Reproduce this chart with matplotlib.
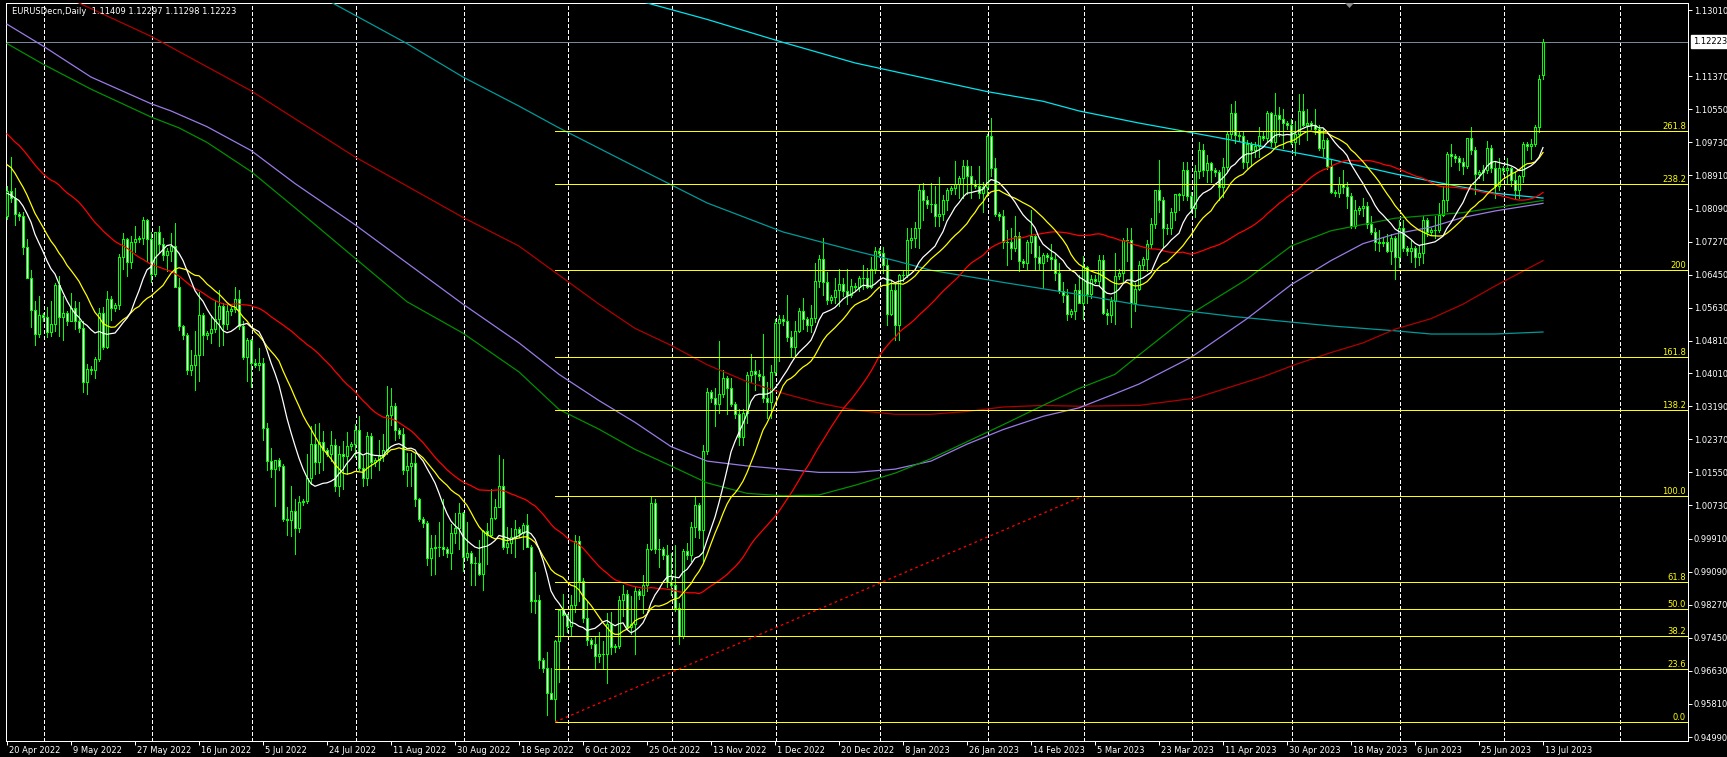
import numpy as np
import pandas as pd
import matplotlib
matplotlib.use("Agg")
import matplotlib.pyplot as plt
from matplotlib.patches import Polygon
from matplotlib.transforms import ScaledTranslation, blended_transform_factory

# ---------------- data ----------------
symbol_title = "EURUSDecn,Daily"
first_date, last_date = "2022-04-20", "2023-07-13"
missing_dates = ["2022-06-05"]          # one Sunday bar absent from the feed

opens = [
    1.0790, 1.0852, 1.0836,
    1.0795, 1.0790, 1.0713, 1.0637, 1.0557, 1.0497,
    1.0545, 1.0540, 1.0502, 1.0523, 1.0620, 1.0540,
    1.0551, 1.0530, 1.0563, 1.0530, 1.0514, 1.0380,
    1.0412, 1.0408, 1.0435, 1.0551, 1.0465, 1.0585,
    1.0563, 1.0570, 1.0690, 1.0734, 1.0677, 1.0725,
    1.0733, 1.0735, 1.0780, 1.0734, 1.0648, 1.0750,
    1.0720, 1.0695, 1.0705, 1.0715, 1.0615,
    1.0518, 1.0495, 1.0410, 1.0420, 1.0445, 1.0545,
    1.0495, 1.0500, 1.0510, 1.0535, 1.0567, 1.0522,
    1.0554, 1.0560, 1.0584, 1.0518, 1.0442, 1.0484,
    1.0426, 1.0420, 1.0425, 1.0265, 1.0182, 1.0163,
    1.0185, 1.0170, 1.0040, 1.0036, 1.0060, 1.0018,
    1.0082, 1.0085, 1.0141, 1.0225, 1.0180, 1.0230,
    1.0211, 1.0200, 1.0222, 1.0120, 1.0200, 1.0195,
    1.0220, 1.0225, 1.0261, 1.0165, 1.0142, 1.0245,
    1.0181, 1.0185, 1.0196, 1.0211, 1.0298, 1.0320,
    1.0259, 1.0250, 1.0160, 1.0170, 1.0178, 1.0089,
    1.0039, 1.0030, 0.9943, 0.9968, 0.9970, 0.9970,
    0.9965, 0.9955, 1.0005, 1.0018, 1.0055, 0.9944,
    0.9955, 0.9930, 0.9930, 0.9903, 1.0010, 1.0000,
    1.0043, 1.0070, 1.0120, 0.9970, 0.9980, 0.9995,
    1.0015, 1.0005, 1.0025, 0.9970, 0.9835, 0.9838,
    0.9690, 0.9670, 0.9607, 0.9593, 0.9737, 0.9815,
    0.9801, 0.9775, 0.9825, 0.9986, 0.9885, 0.9795,
    0.9740, 0.9730, 0.9701, 0.9705, 0.9705, 0.9779,
    0.9722, 0.9725, 0.9839, 0.9854, 0.9772, 0.9779,
    0.9860, 0.9850, 0.9877, 0.9965, 1.0078, 0.9964,
    0.9965, 0.9950, 0.9883, 0.9877, 0.9820, 0.9750,
    0.9960, 0.9950, 1.0020, 1.0074, 1.0013, 1.0209,
    1.0355, 1.0340, 1.0324, 1.0350, 1.0390, 1.0363,
    1.0324, 1.0300, 1.0243, 1.0303, 1.0397, 1.0407,
    1.0398, 1.0395, 1.0340, 1.0330, 1.0405, 1.0525,
    1.0535, 1.0530, 1.0490, 1.0467, 1.0506, 1.0555,
    1.0535, 1.0520, 1.0538, 1.0630, 1.0683, 1.0627,
    1.0583, 1.0590, 1.0606, 1.0622, 1.0605, 1.0595,
    1.0616, 1.0615, 1.0637, 1.0638, 1.0615, 1.0660,
    1.0705, 1.0700, 1.0670, 1.0548, 1.0607, 1.0520,
    1.0644, 1.0645, 1.0731, 1.0735, 1.0761, 1.0854,
    1.0830, 1.0820, 1.0820, 1.0790, 1.0795, 1.0830,
    1.0855, 1.0860, 1.0871, 1.0885, 1.0915, 1.0890,
    1.0870, 1.0865, 1.0848, 1.0862, 1.0990, 1.0910,
    1.0795, 1.0790, 1.0727, 1.0727, 1.0712, 1.0740,
    1.0678, 1.0675, 1.0725, 1.0740, 1.0690, 1.0675,
    1.0695, 1.0690, 1.0685, 1.0650, 1.0605, 1.0595,
    1.0547, 1.0555, 1.0608, 1.0576, 1.0665, 1.0596,
    1.0635, 1.0630, 1.0682, 1.0550, 1.0545, 1.0581,
    1.0641, 1.0650, 1.0730, 1.0732, 1.0575, 1.0610,
    1.0670, 1.0685, 1.0720, 1.0770, 1.0855, 1.0830,
    1.0760, 1.0760, 1.0800, 1.0845, 1.0843, 1.0905,
    1.0840, 1.0810, 1.0903, 1.0955, 1.0905, 1.0922,
    1.0905, 1.0900, 1.0862, 1.0913, 1.0995, 1.1047,
    1.0991, 1.0990, 1.0925, 1.0970, 1.0955, 1.0965,
    1.0990, 1.0985, 1.1045, 1.0975, 1.1040, 1.1030,
    1.1020, 1.1015, 1.0975, 1.0995, 1.1050, 1.1015,
    1.1020, 1.1015, 1.1005, 1.0960, 1.0980, 1.0915,
    1.0850, 1.0848, 1.0870, 1.0862, 1.0840, 1.0765,
    1.0805, 1.0810, 1.0815, 1.0770, 1.0750, 1.0725,
    1.0723, 1.0725, 1.0705, 1.0735, 1.0690, 1.0760,
    1.0710, 1.0705, 1.0710, 1.0690, 1.0700, 1.0780,
    1.0750, 1.0755, 1.0755, 1.0793, 1.0830, 1.0945,
    1.0940, 1.0935, 1.0925, 1.0915, 1.0985, 1.0955,
    1.0895, 1.0900, 1.0905, 1.0960, 1.0910, 1.0866,
    1.0910, 1.0905, 1.0910, 1.0880, 1.0855, 1.0890,
    1.0970, 1.0965, 1.0970, 1.1010, 1.11409,
]

highs = [
    1.0866, 1.0936, 1.0860,
    1.0800, 1.0800, 1.0734, 1.0657, 1.0581, 1.0592,
    1.0550, 1.0566, 1.0580, 1.0624, 1.0642, 1.0592,
    1.0555, 1.0600, 1.0580, 1.0577, 1.0530, 1.0423,
    1.0418, 1.0440, 1.0563, 1.0564, 1.0605, 1.0593,
    1.0575, 1.0697, 1.0749, 1.0737, 1.0740, 1.0765,
    1.0740, 1.0787, 1.0784, 1.0750, 1.0750, 1.0765,
    1.0737, 1.0710, 1.0748, 1.0774, 1.0638,
    1.0520, 1.0500, 1.0459, 1.0506, 1.0601, 1.0550,
    1.0505, 1.0545, 1.0583, 1.0606, 1.0575, 1.0570,
    1.0565, 1.0615, 1.0606, 1.0531, 1.0487, 1.0486,
    1.0435, 1.0463, 1.0438, 1.0277, 1.0215, 1.0186,
    1.0190, 1.0175, 1.0069, 1.0121, 1.0090, 1.0097,
    1.0090, 1.0200, 1.0269, 1.0274, 1.0278, 1.0258,
    1.0215, 1.0258, 1.0237, 1.0220, 1.0234, 1.0255,
    1.0230, 1.0274, 1.0294, 1.0195, 1.0254, 1.0253,
    1.0190, 1.0235, 1.0249, 1.0368, 1.0364, 1.0326,
    1.0265, 1.0265, 1.0202, 1.0202, 1.0202, 1.0092,
    1.0045, 1.0034, 0.9999, 0.9999, 1.0033, 1.0090,
    0.9970, 1.0028, 1.0055, 1.0080, 1.0057, 1.0033,
    0.9960, 0.9945, 0.9988, 1.0012, 1.0030, 1.0113,
    1.0090, 1.0198, 1.0187, 1.0020, 1.0017, 1.0037,
    1.0020, 1.0030, 1.0051, 0.9976, 0.9907, 0.9852,
    0.9695, 0.9710, 0.9671, 0.9739, 0.9815, 0.9854,
    0.9805, 0.9852, 0.9999, 0.9998, 0.9892, 0.9835,
    0.9745, 0.9748, 0.9760, 0.9736, 0.9807, 0.9809,
    0.9730, 0.9848, 0.9875, 0.9864, 0.9849, 0.9872,
    0.9865, 0.9900, 0.9977, 1.0093, 1.0088, 0.9990,
    0.9970, 0.9976, 0.9954, 0.9976, 0.9830, 0.9965,
    0.9980, 1.0033, 1.0095, 1.0079, 1.0222, 1.0364,
    1.0360, 1.0365, 1.0481, 1.0408, 1.0393, 1.0390,
    1.0330, 1.0311, 1.0313, 1.0405, 1.0448, 1.0433,
    1.0410, 1.0497, 1.0380, 1.0420, 1.0534, 1.0545,
    1.0545, 1.0595, 1.0505, 1.0531, 1.0562, 1.0588,
    1.0540, 1.0569, 1.0673, 1.0695, 1.0736, 1.0652,
    1.0595, 1.0638, 1.0658, 1.0638, 1.0658, 1.0634,
    1.0625, 1.0642, 1.0670, 1.0661, 1.0690, 1.0714,
    1.0710, 1.0713, 1.0683, 1.0633, 1.0622, 1.0648,
    1.0655, 1.0760, 1.0760, 1.0776, 1.0868, 1.0873,
    1.0840, 1.0873, 1.0866, 1.0887, 1.0843, 1.0859,
    1.0865, 1.0927, 1.0889, 1.0929, 1.0930, 1.0914,
    1.0880, 1.0914, 1.0874, 1.0993, 1.1033, 1.0935,
    1.0800, 1.0805, 1.0757, 1.0760, 1.0790, 1.0751,
    1.0685, 1.0730, 1.0805, 1.0745, 1.0715, 1.0700,
    1.0700, 1.0720, 1.0700, 1.0673, 1.0628, 1.0610,
    1.0560, 1.0622, 1.0645, 1.0692, 1.0667, 1.0644,
    1.0645, 1.0694, 1.0695, 1.0560, 1.0590, 1.0700,
    1.0660, 1.0737, 1.0760, 1.0760, 1.0625, 1.0680,
    1.0690, 1.0730, 1.0786, 1.0856, 1.0930, 1.0838,
    1.0770, 1.0810, 1.0846, 1.0848, 1.0925, 1.0925,
    1.0850, 1.0917, 1.0973, 1.0970, 1.0941, 1.0925,
    1.0910, 1.0905, 1.0935, 1.1000, 1.1068, 1.1076,
    1.1000, 1.0999, 1.0980, 1.0975, 1.0973, 1.1012,
    1.1000, 1.1050, 1.1048, 1.1095, 1.1060, 1.1055,
    1.1025, 1.1030, 1.1025, 1.1092, 1.1092, 1.1055,
    1.1025, 1.1055, 1.1015, 1.1005, 1.0985, 1.0930,
    1.0855, 1.0888, 1.0904, 1.0875, 1.0848, 1.0830,
    1.0815, 1.0835, 1.0825, 1.0790, 1.0760, 1.0755,
    1.0735, 1.0745, 1.0745, 1.0740, 1.0780, 1.0780,
    1.0715, 1.0730, 1.0715, 1.0715, 1.0790, 1.0785,
    1.0760, 1.0790, 1.0824, 1.0864, 1.0949, 1.0970,
    1.0945, 1.0940, 1.0935, 1.0985, 1.1012, 1.0962,
    1.0905, 1.0917, 1.0976, 1.0967, 1.0925, 1.0935,
    1.0915, 1.0935, 1.0912, 1.0900, 1.0892, 1.0975,
    1.0975, 1.0982, 1.1017, 1.1140, 1.12297,
]

lows = [
    1.0782, 1.0825, 1.0768,
    1.0780, 1.0697, 1.0636, 1.0515, 1.0472, 1.0490,
    1.0530, 1.0490, 1.0492, 1.0505, 1.0494, 1.0483,
    1.0520, 1.0530, 1.0510, 1.0502, 1.0354, 1.0350,
    1.0400, 1.0389, 1.0430, 1.0460, 1.0463, 1.0532,
    1.0555, 1.0560, 1.0660, 1.0643, 1.0662, 1.0701,
    1.0725, 1.0720, 1.0680, 1.0627, 1.0643, 1.0702,
    1.0681, 1.0653, 1.0680, 1.0614, 1.0507,
    1.0485, 1.0398, 1.0397, 1.0359, 1.0381, 1.0445,
    1.0485, 1.0475, 1.0502, 1.0469, 1.0470, 1.0510,
    1.0545, 1.0552, 1.0511, 1.0437, 1.0382, 1.0366,
    1.0415, 1.0410, 1.0236, 1.0162, 1.0144, 1.0072,
    1.0160, 1.0034, 0.9999, 0.9998, 0.9952, 1.0006,
    1.0075, 1.0080, 1.0125, 1.0152, 1.0153, 1.0162,
    1.0195, 1.0183, 1.0109, 1.0096, 1.0113, 1.0150,
    1.0210, 1.0194, 1.0162, 1.0122, 1.0123, 1.0141,
    1.0170, 1.0160, 1.0184, 1.0200, 1.0273, 1.0236,
    1.0240, 1.0150, 1.0122, 1.0122, 1.0072, 1.0034,
    1.0020, 0.9926, 0.9900, 0.9903, 0.9947, 0.9950,
    0.9945, 0.9915, 0.9980, 0.9964, 0.9911, 0.9939,
    0.9875, 0.9877, 0.9900, 0.9864, 0.9929, 0.9994,
    1.0040, 1.0070, 0.9966, 0.9955, 0.9956, 0.9945,
    0.9995, 0.9966, 0.9970, 0.9810, 0.9807, 0.9670,
    0.9660, 0.9553, 0.9593, 0.9536, 0.9635, 0.9750,
    0.9760, 0.9751, 0.9809, 0.9835, 0.9785, 0.9727,
    0.9720, 0.9671, 0.9685, 0.9669, 0.9632, 0.9706,
    0.9710, 0.9720, 0.9800, 0.9767, 0.9755, 0.9705,
    0.9840, 0.9807, 0.9860, 0.9963, 0.9955, 0.9921,
    0.9940, 0.9870, 0.9851, 0.9811, 0.9730, 0.9745,
    0.9940, 0.9935, 0.9995, 0.9993, 0.9935, 1.0200,
    1.0330, 1.0271, 1.0302, 1.0343, 1.0300, 1.0320,
    1.0290, 1.0223, 1.0224, 1.0277, 1.0378, 1.0358,
    1.0385, 1.0330, 1.0290, 1.0290, 1.0396, 1.0430,
    1.0520, 1.0480, 1.0444, 1.0444, 1.0502, 1.0510,
    1.0505, 1.0503, 1.0529, 1.0615, 1.0595, 1.0573,
    1.0575, 1.0575, 1.0567, 1.0593, 1.0573, 1.0589,
    1.0605, 1.0605, 1.0610, 1.0612, 1.0612, 1.0650,
    1.0690, 1.0650, 1.0520, 1.0545, 1.0483, 1.0483,
    1.0630, 1.0640, 1.0712, 1.0713, 1.0710, 1.0780,
    1.0810, 1.0800, 1.0766, 1.0766, 1.0780, 1.0805,
    1.0845, 1.0845, 1.0834, 1.0835, 1.0845, 1.0835,
    1.0860, 1.0835, 1.0800, 1.0840, 1.0889, 1.0790,
    1.0780, 1.0710, 1.0670, 1.0684, 1.0703, 1.0655,
    1.0665, 1.0660, 1.0700, 1.0660, 1.0660, 1.0613,
    1.0680, 1.0660, 1.0632, 1.0600, 1.0577, 1.0533,
    1.0540, 1.0535, 1.0575, 1.0534, 1.0576, 1.0588,
    1.0625, 1.0618, 1.0548, 1.0524, 1.0528, 1.0524,
    1.0635, 1.0630, 1.0680, 1.0516, 1.0554, 1.0606,
    1.0660, 1.0653, 1.0710, 1.0760, 1.0800, 1.0713,
    1.0745, 1.0745, 1.0780, 1.0805, 1.0830, 1.0830,
    1.0800, 1.0788, 1.0885, 1.0889, 1.0875, 1.0875,
    1.0890, 1.0830, 1.0838, 1.0900, 1.0985, 1.0971,
    1.0980, 1.0909, 1.0910, 1.0914, 1.0938, 1.0936,
    1.0980, 1.0975, 1.0963, 1.0965, 1.0990, 1.0960,
    1.1005, 1.0968, 1.0942, 1.0968, 1.1013, 1.0980,
    1.1005, 1.0995, 1.0955, 1.0940, 1.0906, 1.0848,
    1.0840, 1.0837, 1.0848, 1.0810, 1.0760, 1.0760,
    1.0795, 1.0790, 1.0760, 1.0746, 1.0706, 1.0703,
    1.0715, 1.0702, 1.0671, 1.0635, 1.0665, 1.0705,
    1.0695, 1.0676, 1.0665, 1.0670, 1.0675, 1.0740,
    1.0745, 1.0735, 1.0750, 1.0790, 1.0802, 1.0915,
    1.0925, 1.0905, 1.0895, 1.0910, 1.0945, 1.0844,
    1.0885, 1.0880, 1.0897, 1.0899, 1.0834, 1.0855,
    1.0895, 1.0872, 1.0865, 1.0833, 1.0835, 1.0875,
    1.0955, 1.0932, 1.0964, 1.0998, 1.11298,
]

closes = [
    1.0852, 1.0836, 1.0795,
    1.0790, 1.0713, 1.0637, 1.0557, 1.0497, 1.0545,
    1.0540, 1.0502, 1.0523, 1.0620, 1.0540, 1.0551,
    1.0530, 1.0563, 1.0530, 1.0514, 1.0380, 1.0412,
    1.0408, 1.0435, 1.0551, 1.0465, 1.0585, 1.0563,
    1.0570, 1.0690, 1.0734, 1.0677, 1.0725, 1.0733,
    1.0735, 1.0780, 1.0734, 1.0648, 1.0750, 1.0720,
    1.0695, 1.0705, 1.0715, 1.0615, 1.0518,
    1.0495, 1.0410, 1.0420, 1.0445, 1.0545, 1.0495,
    1.0500, 1.0510, 1.0535, 1.0567, 1.0522, 1.0554,
    1.0560, 1.0584, 1.0518, 1.0442, 1.0484, 1.0426,
    1.0420, 1.0425, 1.0265, 1.0182, 1.0163, 1.0185,
    1.0170, 1.0040, 1.0036, 1.0060, 1.0018, 1.0082,
    1.0085, 1.0141, 1.0225, 1.0180, 1.0230, 1.0211,
    1.0200, 1.0222, 1.0120, 1.0200, 1.0195, 1.0220,
    1.0225, 1.0261, 1.0165, 1.0142, 1.0245, 1.0181,
    1.0185, 1.0196, 1.0211, 1.0298, 1.0320, 1.0259,
    1.0250, 1.0160, 1.0170, 1.0178, 1.0089, 1.0039,
    1.0030, 0.9943, 0.9968, 0.9970, 0.9970, 0.9965,
    0.9955, 1.0005, 1.0018, 1.0055, 0.9944, 0.9955,
    0.9930, 0.9930, 0.9903, 1.0010, 1.0000, 1.0043,
    1.0070, 1.0120, 0.9970, 0.9980, 0.9995, 1.0015,
    1.0005, 1.0025, 0.9970, 0.9835, 0.9838, 0.9690,
    0.9670, 0.9607, 0.9593, 0.9737, 0.9815, 0.9801,
    0.9775, 0.9825, 0.9986, 0.9885, 0.9795, 0.9740,
    0.9730, 0.9701, 0.9705, 0.9705, 0.9779, 0.9722,
    0.9725, 0.9839, 0.9854, 0.9772, 0.9779, 0.9860,
    0.9850, 0.9877, 0.9965, 1.0078, 0.9964, 0.9965,
    0.9950, 0.9883, 0.9877, 0.9820, 0.9750, 0.9960,
    0.9950, 1.0020, 1.0074, 1.0013, 1.0209, 1.0355,
    1.0340, 1.0324, 1.0350, 1.0390, 1.0363, 1.0324,
    1.0300, 1.0243, 1.0303, 1.0397, 1.0407, 1.0398,
    1.0395, 1.0340, 1.0330, 1.0405, 1.0525, 1.0535,
    1.0530, 1.0490, 1.0467, 1.0506, 1.0555, 1.0535,
    1.0520, 1.0538, 1.0630, 1.0683, 1.0627, 1.0583,
    1.0590, 1.0606, 1.0622, 1.0605, 1.0595, 1.0616,
    1.0615, 1.0637, 1.0638, 1.0615, 1.0660, 1.0705,
    1.0700, 1.0670, 1.0548, 1.0607, 1.0520, 1.0644,
    1.0645, 1.0731, 1.0735, 1.0761, 1.0854, 1.0830,
    1.0820, 1.0820, 1.0790, 1.0795, 1.0830, 1.0855,
    1.0860, 1.0871, 1.0885, 1.0915, 1.0890, 1.0870,
    1.0865, 1.0848, 1.0862, 1.0990, 1.0910, 1.0795,
    1.0790, 1.0727, 1.0727, 1.0712, 1.0740, 1.0678,
    1.0675, 1.0725, 1.0740, 1.0690, 1.0675, 1.0695,
    1.0690, 1.0685, 1.0650, 1.0605, 1.0595, 1.0547,
    1.0555, 1.0608, 1.0576, 1.0665, 1.0596, 1.0635,
    1.0630, 1.0682, 1.0550, 1.0545, 1.0581, 1.0641,
    1.0650, 1.0730, 1.0732, 1.0575, 1.0610, 1.0670,
    1.0685, 1.0720, 1.0770, 1.0855, 1.0830, 1.0760,
    1.0760, 1.0800, 1.0845, 1.0843, 1.0905, 1.0840,
    1.0810, 1.0903, 1.0955, 1.0905, 1.0922, 1.0905,
    1.0900, 1.0862, 1.0913, 1.0995, 1.1047, 1.0991,
    1.0990, 1.0925, 1.0970, 1.0955, 1.0965, 1.0990,
    1.0985, 1.1045, 1.0975, 1.1040, 1.1030, 1.1020,
    1.1015, 1.0975, 1.0995, 1.1050, 1.1015, 1.1020,
    1.1015, 1.1005, 1.0960, 1.0980, 1.0915, 1.0850,
    1.0848, 1.0870, 1.0862, 1.0840, 1.0765, 1.0805,
    1.0810, 1.0815, 1.0770, 1.0750, 1.0725, 1.0723,
    1.0725, 1.0705, 1.0735, 1.0690, 1.0760, 1.0710,
    1.0705, 1.0710, 1.0690, 1.0700, 1.0780, 1.0750,
    1.0755, 1.0755, 1.0793, 1.0830, 1.0945, 1.0940,
    1.0935, 1.0925, 1.0915, 1.0985, 1.0955, 1.0895,
    1.0900, 1.0905, 1.0960, 1.0910, 1.0866, 1.0910,
    1.0905, 1.0910, 1.0880, 1.0855, 1.0890, 1.0970,
    1.0965, 1.0970, 1.1010, 1.1130, 1.12223,
]

# closes of the 50 bars before the first visible bar (warm-up for the moving averages)
pre_closes = [
    1.1308, 1.1327, 1.1310, 1.1193, 1.1270,
    1.1230, 1.1218, 1.1123, 1.1120, 1.1064, 1.0930,
    1.0880, 1.0857, 1.0902, 1.1074, 1.0985, 1.0912,
    1.0920, 1.0943, 1.0956, 1.1036, 1.1092, 1.1051,
    1.1045, 1.1016, 1.1030, 1.1006, 1.0996, 1.0983,
    1.0965, 1.0985, 1.1088, 1.1158, 1.1067, 1.1047,
    1.1040, 1.0971, 1.0905, 1.0901, 1.0878, 1.0876,
    1.0890, 1.0886, 1.0829, 1.0890, 1.0826, 1.0810,
    1.0805, 1.0779, 1.0788,
]
fast_period, mid_period, slow_period = 13, 21, 50

# long moving averages (bar index, price)
green_bar = [0, 9, 21, 36, 43, 50, 61, 72, 87, 100, 114, 128, 138, 148, 157, 166, 175, 185, 194, 203,
             212, 222, 231, 240, 249, 259, 268, 277, 283, 296, 310, 321, 331, 347, 364, 384]
green_val = [1.1218, 1.1167, 1.1105, 1.1036, 1.1009, 1.0973, 1.0901, 1.0811, 1.0686, 1.0578,
             1.0500, 1.0404, 1.0311, 1.0262, 1.0212, 1.0171, 1.0129, 1.0103, 1.0097, 1.0099,
             1.0123, 1.0153, 1.0189, 1.0231, 1.0273, 1.0321, 1.0363, 1.0398, 1.0446, 1.0548,
             1.0634, 1.0716, 1.0754, 1.0785, 1.0799, 1.0829]
purple_bar = [0, 9, 21, 36, 41, 50, 61, 72, 87, 100, 114, 128, 138, 148, 157, 166, 175, 185, 194, 203,
              212, 222, 231, 240, 249, 259, 268, 277, 283, 296, 310, 321, 331, 339, 347, 356, 364, 372, 384]
purple_val = [1.1266, 1.1212, 1.1135, 1.1069, 1.1051, 1.1012, 1.0953, 1.0871, 1.0769, 1.0674,
              1.0572, 1.0476, 1.0398, 1.0333, 1.0279, 1.0219, 1.0183, 1.0171, 1.0163, 1.0155,
              1.0155, 1.0163, 1.0183, 1.0225, 1.0261, 1.0294, 1.0315, 1.0350, 1.0374, 1.0440,
              1.0536, 1.0620, 1.0680, 1.0722, 1.0746, 1.0763, 1.0787, 1.0803, 1.0822]
darkred_bar = [0, 19, 36, 61, 87, 114, 128, 138, 148, 157, 166, 175, 185, 194, 203, 212, 222, 231, 240, 249,
               259, 268, 283, 297, 314, 322, 331, 339, 347, 356, 364, 372, 384]
darkred_val = [1.1398, 1.1314, 1.1236, 1.1101, 1.0937, 1.0787, 1.0716, 1.0644, 1.0572, 1.0512,
               1.0470, 1.0422, 1.0380, 1.0351, 1.0327, 1.0309, 1.0299, 1.0299, 1.0306, 1.0317,
               1.0321, 1.0319, 1.0321, 1.0339, 1.0392, 1.0422, 1.0452, 1.0476, 1.0510, 1.0536,
               1.0572, 1.0617, 1.0680]
teal_bar = [72, 80, 100, 114, 128, 138, 157, 175, 194, 212, 222, 231, 249, 268, 283, 306, 331, 347, 356, 372, 384]
teal_val = [1.1366, 1.1326, 1.1218, 1.1135, 1.1063, 1.1009, 1.0913, 1.0823, 1.0751, 1.0704,
            1.0680, 1.0656, 1.0626, 1.0596, 1.0570, 1.0542, 1.0518, 1.0506, 1.0498, 1.0498, 1.0503]
cyan_bar = [140, 161, 175, 194, 212, 231, 245, 259, 268, 283, 293, 306, 318, 331, 339, 347, 356, 364, 372, 384]
cyan_val = [1.1370, 1.1316, 1.1278, 1.1221, 1.1170, 1.1129, 1.1099, 1.1075, 1.1051, 1.1021,
            1.1003, 1.0979, 1.0955, 1.0931, 1.0913, 1.0895, 1.0877, 1.0862, 1.0847, 1.0835]

# Fibonacci retracement
fib_start_bar, fib_end_bar = 137, 269
fib_low, fib_high = 0.9536, 1.0096
fib_ratios = [0.0, 23.6, 38.2, 50.0, 61.8, 100.0, 138.2, 161.8, 200.0, 238.2, 261.8]
fib_labels = ["0.0", "23.6", "38.2", "50.0", "61.8", "100.0", "138.2", "161.8", "200", "238.2", "261.8"]

# price scale
price_min, price_max = 0.94891, 1.13198
price_ticks = [1.13010, 1.11370, 1.10550, 1.09730, 1.08910, 1.08090, 1.07270, 1.06450,
               1.05630, 1.04810, 1.04010, 1.03190, 1.02370, 1.01550, 1.00730, 0.99910,
               0.99090, 0.98270, 0.97450, 0.96630, 0.95810, 0.94990]
label_every = 16

# ---------------- figure ----------------
n = len(closes)
assert len(opens) == n and len(highs) == n and len(lows) == n

dates = pd.date_range(first_date, last_date, freq="D")
dates = dates[(dates.dayofweek != 5) & ~dates.isin(pd.to_datetime(missing_dates))]
assert len(dates) == n

W, H, DPI = 1727, 757, 100
PX = 72.0 / DPI
FS = 6.0
plt.rcParams['font.family'] = ['DejaVu Sans']

fig = plt.figure(figsize=(W / DPI, H / DPI), dpi=DPI, facecolor='black')
L, R, T, B = 5.5, 1688.0, 2.5, 741.0
ax = fig.add_axes([L / W, 1 - B / H, (R - L) / W, (B - T) / H])
ax.set_facecolor('black')
bar_px, x0_px = 4.0, 7.0
xlim = ((L - x0_px) / bar_px, (R - x0_px) / bar_px)

blend_ad = blended_transform_factory(ax.transAxes, ax.transData)

# month grid (including projected future months)
month_idx = [i for i in range(1, n) if dates[i].month != dates[i - 1].month]
nxt = dates[-1] + pd.offsets.MonthBegin(1)
while n - 1 + (nxt - dates[-1]).days < xlim[1]:
    month_idx.append(n - 1 + (nxt - dates[-1]).days)
    nxt = nxt + pd.offsets.MonthBegin(1)
for mi in month_idx:
    ax.axvline(mi + 0.15, color='white', lw=PX, ls=(0, (4, 2.5)), antialiased=False, zorder=1)

# current price line
ax.axhline(closes[-1], color='#778899', lw=PX, antialiased=False, zorder=2)

# candles
x = np.arange(n)
o, h, l, c = map(np.asarray, (opens, highs, lows, closes))
ax.vlines(x, l, h, colors='#00FF00', lw=PX, antialiased=False, zorder=3)
body_lo = np.minimum(o, c)
body_h = np.abs(c - o)
face = np.where(c >= o, 'black', 'white')
ax.bar(x, body_h, width=2 / bar_px, bottom=body_lo, color=face, edgecolor='#00FF00',
       linewidth=PX, antialiased=False, zorder=4)

# moving averages
allc = pd.Series(pre_closes + closes)
def sma(p):
    return allc.rolling(p).mean().to_numpy()[len(pre_closes):]

MA_LW = 1.25 * PX
for bx, by, col in [(cyan_bar, cyan_val, '#00E5EE'), (teal_bar, teal_val, '#009A9A'),
                    (darkred_bar, darkred_val, '#B00000'), (purple_bar, purple_val, '#9A7BE6'),
                    (green_bar, green_val, '#009000')]:
    ax.plot(bx, by, color=col, lw=MA_LW, antialiased=True, zorder=5)
ax.plot(x, sma(slow_period), color='#FF0000', lw=MA_LW, antialiased=True, zorder=5)
ax.plot(x, sma(mid_period), color='#FFFF00', lw=MA_LW, antialiased=True, zorder=5)
ax.plot(x, sma(fast_period), color='#FFFFFF', lw=MA_LW, antialiased=True, zorder=5)

# Fibonacci
fib_prices = fib_low + np.asarray(fib_ratios) / 100.0 * (fib_high - fib_low)
ax.hlines(fib_prices, fib_start_bar, xlim[1], colors='#FFFF00', lw=PX, antialiased=False, zorder=6)
for p, lab in zip(fib_prices, fib_labels):
    ax.text(1 - 2.0 / (R - L), p, lab, transform=blend_ad, ha='right', va='bottom',
            color='#FFFF00', fontsize=FS, zorder=7)
ax.plot([fib_start_bar, fib_end_bar], [fib_low, fib_high], color='#FF0000', lw=1.3 * PX,
        ls=(0, (2, 2.5)), antialiased=True, zorder=6)

ax.set_xlim(*xlim)
ax.set_ylim(price_min, price_max)

# axes styling
for s in ax.spines.values():
    s.set_color('white')
    s.set_linewidth(PX)
ax.yaxis.tick_right()
ax.set_yticks(price_ticks)
ax.set_yticklabels([f"{v:.5f}" for v in price_ticks])
ax.tick_params(axis='y', colors='white', length=4 * PX, width=PX, pad=2 * PX, labelsize=FS)
tick_pos = list(range(0, n, label_every))
ax.set_xticks(tick_pos)
ax.set_xticklabels([f"{dates[i].day} {dates[i].strftime('%b %Y')}" for i in tick_pos])
ax.tick_params(axis='x', colors='white', length=4 * PX, width=PX, pad=1 * PX, labelsize=FS)
shift = ScaledTranslation(2 / DPI, 0, fig.dpi_scale_trans)
for lbl in ax.get_xticklabels():
    lbl.set_ha('left')
    lbl.set_transform(lbl.get_transform() + shift)

# current price box on the scale
ax.annotate(f"{closes[-1]:.5f}", xy=(1, closes[-1]), xycoords=blend_ad, xytext=(5 * PX, 0),
            textcoords='offset points', ha='left', va='center', fontsize=FS, color='black',
            bbox=dict(boxstyle='square,pad=0.25', fc='white', ec='white'), annotation_clip=False)

# title
fig.text(12 / W, 1 - 12 / H,
         f"{symbol_title}  {opens[-1]:.5f} {highs[-1]:.5f} {lows[-1]:.5f} {closes[-1]:.5f}",
         color='white', fontsize=FS, ha='left', va='center')

# chart-shift marker
tri = np.array([[1345, 3], [1354, 3], [1349.5, 8]], dtype=float)
fig.patches.append(Polygon(np.c_[tri[:, 0] / W, 1 - tri[:, 1] / H], closed=True,
                           transform=fig.transFigure, facecolor='#8C8C8C', edgecolor='none'))

fig.savefig("out.png", dpi=DPI, facecolor='black')
